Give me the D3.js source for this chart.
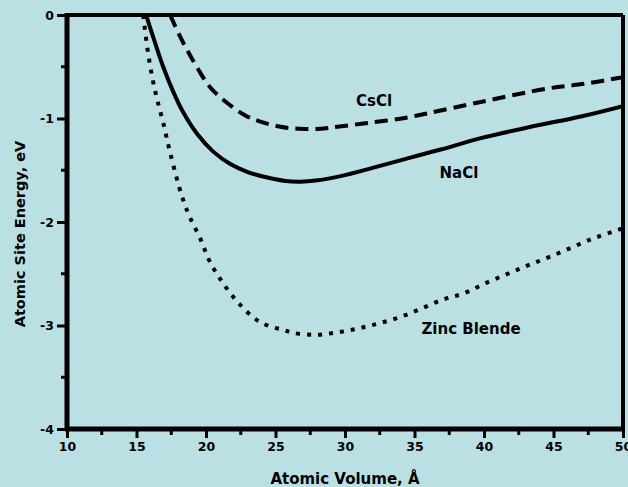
<!DOCTYPE html>
<html>
<head>
<meta charset="utf-8">
<script src="https://cdn.jsdelivr.net/npm/d3@7"></script>
<style>
body { margin: 0; background: #bbe0e3; }
svg { display: block; }
</style>
</head>
<body>
<div id="chart"></div>
<script>
// values
var xTicks = [10, 15, 20, 25, 30, 35, 40, 45, 50];
var yTicks = [0, -1, -2, -3, -4];

var naclVolume = [15.69, 16.34, 16.92, 17.64, 18.36, 19.37, 20.52, 21.75, 23.05, 24.27, 25.71, 26.79, 27.87, 29.68, 32.05, 34.5, 36.88, 39.77, 43.37, 46.97, 50];
var naclEnergy = [0, -0.27, -0.5, -0.74, -0.94, -1.15, -1.32, -1.44, -1.52, -1.565, -1.603, -1.61, -1.6, -1.557, -1.475, -1.385, -1.3, -1.19, -1.08, -0.98, -0.88];

var csclVolume = [17.42, 18.14, 18.65, 19.37, 20.31, 21.53, 22.83, 23.91, 25.35, 26.79, 28.23, 29.46, 31.84, 34.5, 35.95, 39.77, 44.59, 47.48, 50];
var csclEnergy = [0, -0.21, -0.34, -0.51, -0.7, -0.85, -0.97, -1.03, -1.08, -1.1, -1.1, -1.08, -1.04, -0.99, -0.95, -0.84, -0.71, -0.66, -0.6];

var zincVolume = [15.48, 15.77, 16.13, 16.49, 16.92, 17.42, 18.29, 18.86, 19.59, 20.23, 21.17, 22.32, 23.69, 24.63, 25.5, 26.22, 27.73, 29.32, 30.9, 32.41, 33.93, 35.44, 37.03, 38.54, 40.13, 41.71, 43.15, 44.67, 46.25, 47.84, 49.35, 50];
var zincEnergy = [0, -0.31, -0.6, -0.82, -1.04, -1.33, -1.76, -1.96, -2.16, -2.37, -2.58, -2.78, -2.95, -3.01, -3.04, -3.07, -3.09, -3.07, -3.03, -2.98, -2.92, -2.84, -2.75, -2.69, -2.59, -2.5, -2.42, -2.34, -2.25, -2.16, -2.09, -2.06];

var seriesNames = ["NaCl", "CsCl", "Zinc Blende"];

var svgWidth = 628;
var svgHeight = 487;
var margin = { top: 15, right: 5, bottom: 58, left: 67 };
var width = svgWidth - margin.left - margin.right;
var height = svgHeight - margin.top - margin.bottom;

var font = "'DejaVu Sans', sans-serif";

var svg = d3.select("#chart")
  .append("svg")
  .attr("width", svgWidth)
  .attr("height", svgHeight);

svg.append("rect")
  .attr("width", svgWidth)
  .attr("height", svgHeight)
  .attr("fill", "#bbe0e3");

var chartGroup = svg.append("g")
  .attr("transform", `translate(${margin.left},${margin.top})`);

var x = d3.scaleLinear().domain([10, 50]).range([0, width]);
var y = d3.scaleLinear().domain([-4, 0]).range([height, 0]);

// minor ticks
var xMinor = d3.range(12.5, 50, 5);
var yMinor = d3.range(-3.5, 0, 1);

chartGroup.append("g")
  .selectAll("line")
  .data(xMinor)
  .enter()
  .append("line")
  .attr("x1", d => x(d))
  .attr("x2", d => x(d))
  .attr("y1", height)
  .attr("y2", height + 6)
  .attr("stroke", "black")
  .attr("stroke-width", 3);

chartGroup.append("g")
  .selectAll("line")
  .data(yMinor)
  .enter()
  .append("line")
  .attr("x1", 0)
  .attr("x2", -6)
  .attr("y1", d => y(d))
  .attr("y2", d => y(d))
  .attr("stroke", "black")
  .attr("stroke-width", 3);

var bottomAxis = d3.axisBottom(x).tickValues(xTicks).tickSize(9).tickPadding(4).tickFormat(d => String(d));
var leftAxis = d3.axisLeft(y).tickValues(yTicks).tickSize(10).tickPadding(3).tickFormat(d => String(d));

var xAxis = chartGroup.append("g")
  .attr("transform", `translate(0, ${height})`)
  .call(bottomAxis);

var yAxis = chartGroup.append("g")
  .call(leftAxis);

[xAxis, yAxis].forEach(function(a) {
  a.select(".domain").remove();
  a.selectAll(".tick line").attr("stroke", "black").attr("stroke-width", 3);
  a.selectAll(".tick text")
    .attr("fill", "black")
    .attr("font-family", font)
    .attr("font-weight", "bold")
    .attr("font-size", "12.5px");
});

// frame
chartGroup.append("line").attr("x1", 0).attr("x2", width).attr("y1", 0).attr("y2", 0)
  .attr("stroke", "black").attr("stroke-width", 4);
chartGroup.append("line").attr("x1", width).attr("x2", width).attr("y1", 0).attr("y2", height)
  .attr("stroke", "black").attr("stroke-width", 4);
chartGroup.append("line").attr("x1", 0).attr("x2", 0).attr("y1", -2).attr("y2", height + 2)
  .attr("stroke", "black").attr("stroke-width", 5);
chartGroup.append("line").attr("x1", -2).attr("x2", width + 2).attr("y1", height).attr("y2", height)
  .attr("stroke", "black").attr("stroke-width", 5);

svg.append("clipPath").attr("id", "plot")
  .append("rect").attr("width", width).attr("height", height);

var line = d3.line()
  .x(d => x(d[0]))
  .y(d => y(d[1]))
  .curve(d3.curveCatmullRom.alpha(0.5));

var series = [
  { name: seriesNames[0], pts: d3.zip(naclVolume, naclEnergy), dash: null },
  { name: seriesNames[1], pts: d3.zip(csclVolume, csclEnergy), dash: "13,7" },
  { name: seriesNames[2], pts: d3.zip(zincVolume, zincEnergy), dash: "4,7" }
];

chartGroup.append("g")
  .attr("clip-path", "url(#plot)")
  .selectAll("path")
  .data(series)
  .enter()
  .append("path")
  .attr("d", d => line(d.pts))
  .attr("fill", "none")
  .attr("stroke", "black")
  .attr("stroke-width", 4)
  .attr("stroke-dasharray", d => d.dash);

// curve labels, placed in data units next to each curve
var labelPos = [[36.8, -1.575], [30.8, -0.88], [35.5, -3.08]];
chartGroup.append("g")
  .selectAll("text")
  .data(seriesNames)
  .enter()
  .append("text")
  .attr("x", (d, i) => x(labelPos[i][0]))
  .attr("y", (d, i) => y(labelPos[i][1]))
  .text(d => d)
  .attr("font-family", font)
  .attr("font-weight", "bold")
  .attr("font-size", "15px")
  .attr("fill", "black");

chartGroup.append("text")
  .attr("transform", "rotate(-90)")
  .attr("x", 0 - 219)
  .attr("y", 0 - margin.left + 25)
  .attr("text-anchor", "middle")
  .attr("font-family", font)
  .attr("font-weight", "bold")
  .attr("font-size", "14.5px")
  .text("Atomic Site Energy, eV");

chartGroup.append("text")
  .attr("x", width / 2)
  .attr("y", height + 55)
  .attr("text-anchor", "middle")
  .attr("font-family", font)
  .attr("font-weight", "bold")
  .attr("font-size", "15px")
  .text("Atomic Volume, Å");
</script>
</body>
</html>
